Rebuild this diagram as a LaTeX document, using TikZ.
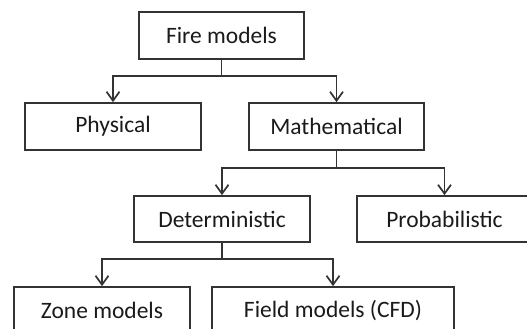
\documentclass[tikz,border=0pt]{standalone}
\usepackage{fontspec}
\setmainfont{Carlito}
\usetikzlibrary{arrows.meta}
\definecolor{linec}{HTML}{333333}
\definecolor{textc}{HTML}{1A1A1A}
\tikzset{
  box/.style={draw=linec, line width=1.7pt, inner sep=0pt, minimum height=47pt,
    text=textc, font=\fontsize{23.5}{28}\selectfont, anchor=center},
  conn/.style={draw=linec, line width=1.7pt},
  arr/.style={conn, -{Straight Barb[length=9pt,width=13pt,line width=1.7pt]}},
}
\begin{document}
\begin{tikzpicture}[x=1pt,y=-1pt]
\useasboundingbox (0,0) rectangle (527,329);
\clip (0,0) rectangle (527,329);
\node[box, minimum width=165pt] (fire) at (221.5,35.5) {Fire models};
\node[box, minimum width=176pt] (phys) at (113,126.5) {Physical};
\node[box, minimum width=175pt] (math) at (336.5,126.5) {Mathematical};
\node[box, minimum width=176pt, minimum height=46pt] (det) at (222,219) {Deterministic};
\node[box, minimum width=175pt, minimum height=46pt] (prob) at (444.5,219) {Probabilistic};
\node[box, minimum width=176pt] (zone) at (102,310.5) {Zone models};
\node[box, minimum width=242pt] (field) at (333,310.5) {Field models (CFD)};
\coordinate (j1) at ([yshift=-16pt]fire.south);
\coordinate (j2) at ([yshift=-17pt]math.south);
\coordinate (j3) at ([yshift=-16pt]det.south);
\draw[conn] (fire.south) -- (j1);
\draw[arr] (j1) -| (phys.north);
\draw[arr] (j1) -| (math.north);
\draw[conn] (math.south) -- (j2);
\draw[arr] (j2) -| (det.north);
\draw[arr] (j2) -| (prob.north);
\draw[conn] (det.south) -- (j3);
\draw[arr] (j3) -| (zone.north);
\draw[arr] (j3) -| (field.north);
\end{tikzpicture}
\end{document}
